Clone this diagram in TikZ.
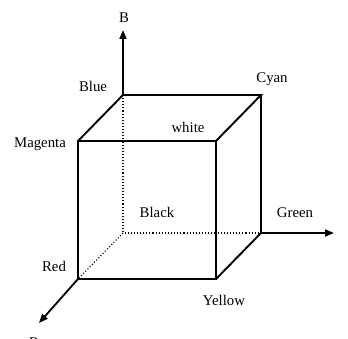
\documentclass[tikz,border=0pt]{standalone}
\usepackage{fontspec}
\setmainfont{Liberation Serif}
\usetikzlibrary{arrows.meta}
\begin{document}
\begin{tikzpicture}[x=1pt,y=-1pt,
  edge/.style={line width=1.9pt},
  hidden/.style={line width=1.1pt,dotted},
  axis/.style={line width=1.8pt,-{Triangle[length=9pt,width=7pt]}},
  lbl/.style={font=\fontsize{14.8}{16}\selectfont,inner sep=0pt}]
\useasboundingbox (0,0) rectangle (348,339);
\coordinate (blue) at (123,95);
\coordinate (cyan) at (261,95);
\coordinate (magenta) at (78,141);
\coordinate (white) at (216,141);
\coordinate (red) at (78,279);
\coordinate (yellow) at (216,279);
\coordinate (green) at (261,233);
\coordinate (black) at (123,233);
\coordinate (btip) at (123,30);
\coordinate (gtip) at (334,233);
\coordinate (rtip) at (39,323);
% hidden edges
\draw[hidden] (blue) -- (black) -- (green);
\draw[hidden] (black) -- (red);
% visible edges
\draw[edge,line join=miter] (magenta) -- (blue) -- (cyan) -- (white) -- (magenta) -- (red) -- (yellow) -- (white);
\draw[edge] (cyan) -- (green) -- (yellow);
% axes
\draw[axis] (blue) -- (btip);
\draw[axis] (green) -- (gtip);
\draw[axis] (red) -- (rtip);
% labels
\node[lbl] (lB) at (124,18) {B};
\node[lbl] (lBlue) at (93,86) {Blue};
\node[lbl] (lCyan) at (272,79) {Cyan};
\node[lbl] (lWhite) at (188,127) {white};
\node[lbl] (lMagenta) at (40,144) {Magenta};
\node[lbl] (lBlack) at (157,212) {Black};
\node[lbl] (lGreen) at (295,213) {Green};
\node[lbl] (lRed) at (54,266) {Red};
\node[lbl] (lYellow) at (224,300) {Yellow};
\node[lbl] (lR) at (34,343) {R};
\node[lbl] (lG) at (354,237) {G};
\end{tikzpicture}
\end{document}
